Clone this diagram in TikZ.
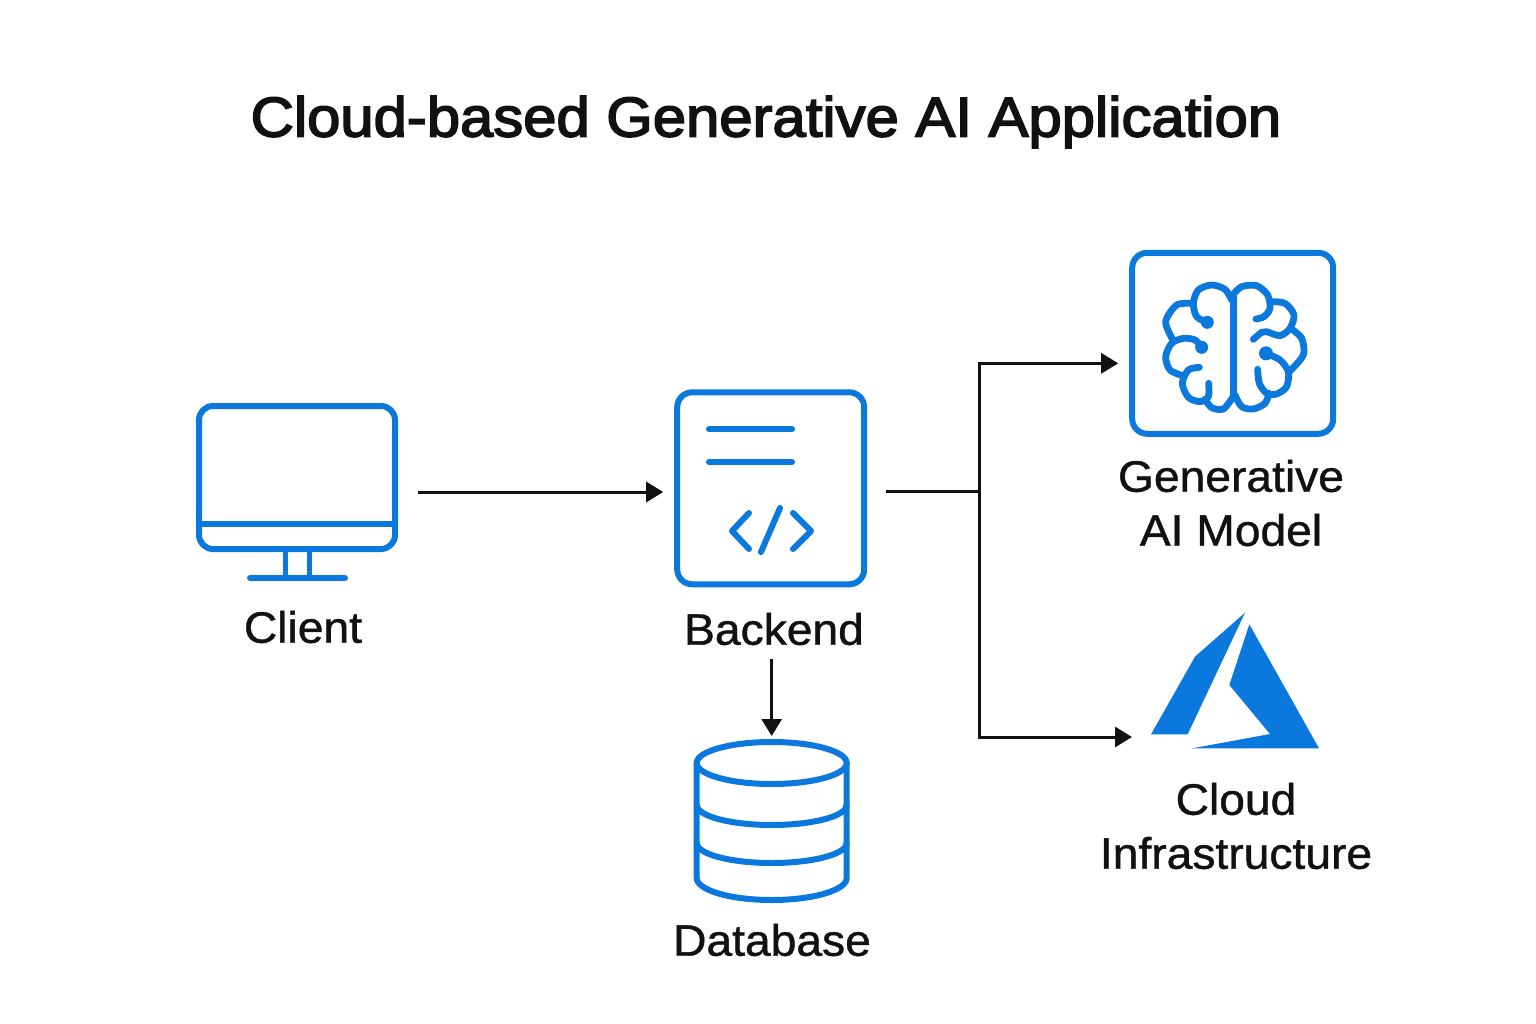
\documentclass[tikz,border=0pt]{standalone}
\usepackage{fontspec}
\setmainfont{Liberation Sans}
\newfontfamily\titlefont[FakeBold=3,FakeStretch=1.068]{Liberation Sans}
\newfontfamily\labelfont[FakeBold=1,FakeStretch=1.05]{Liberation Sans}
\usetikzlibrary{arrows.meta}
\definecolor{iconblue}{RGB}{11,120,222}
\definecolor{inkblack}{RGB}{17,17,17}
\begin{document}
\begin{tikzpicture}[
  x=1pt, y=-1pt,
  iconbox/.style={rectangle, draw=iconblue, line width=6pt, rounded corners=15pt, inner sep=0pt},
  iconarea/.style={rectangle, inner sep=0pt, outer sep=0pt},
  iconline/.style={draw=iconblue, line width=6pt, line cap=round, line join=round},
  brainline/.style={iconline, line width=6.8pt},
  label/.style={font=\labelfont\fontsize{44}{54}\selectfont, text=inkblack, align=center, inner sep=0pt},
  link/.style={draw=inkblack, line width=3pt},
  arrow/.style={link, -{Triangle[length=17pt,width=20pt]}}
]
\useasboundingbox (0,0) rectangle (1536,1024);

% --- Title ---
\node[font=\titlefont\fontsize{56}{60}\selectfont, text=inkblack, inner sep=0pt] (title) at (766,122) {Cloud-based Generative AI Application};

% --- Client ---
\node[iconarea, minimum width=202pt, minimum height=178pt] (client) at (297,492) {};
\draw[iconline, rounded corners=14pt] (199,406) rectangle (395,549);
\draw[iconline, line cap=butt] (199,524) -- (395,524);
\draw[iconline, line cap=butt, line width=5pt] (285,549) -- (285,578);
\draw[iconline, line cap=butt, line width=5pt] (309,549) -- (309,578);
\draw[iconline] (250,578) -- (345,578);
\node[label] (clientlabel) at (303,627) {Client};

% --- Backend ---
\node[iconbox, minimum width=187pt, minimum height=192pt] (backend) at (770.7,488.3) {};
\draw[iconline] (709,429) -- (792,429);
\draw[iconline] (709,462) -- (792,462);
\draw[iconline] (749,513) -- (732,531) -- (749,549);
\draw[iconline] (780,508) -- (761,552);
\draw[iconline] (793,513) -- (811,531) -- (793,549);
\node[label] (backendlabel) at (774,629) {Backend};

% --- Database ---
\node[iconarea, minimum width=156pt, minimum height=164pt] (database) at (771.7,822) {};
\draw[iconline] (771.7,763) ellipse (75pt and 21pt);
\draw[iconline] (696.7,763) -- (696.7,878) arc (180:360:75pt and 22pt) -- (846.7,763);
\draw[iconline] (696.7,805) arc (180:360:75pt and 20pt);
\draw[iconline] (696.7,843) arc (180:360:75pt and 20pt);
\node[label] (databaselabel) at (772,940) {Database};

% --- Generative AI model ---
\node[iconbox, minimum width=201pt, minimum height=181pt] (model) at (1232.7,343.3) {};
\begin{scope}[shift={(1120,240)}, x=0.3333pt, y=-0.3333pt]
  \draw[brainline] plot[smooth] coordinates {(335,180) (315,148) (275,135) (235,150) (220,190) (230,230) (262,247)};
  \draw[brainline] plot[smooth] coordinates {(218,190) (170,195) (137,245) (157,297)};
  \draw[brainline] plot[smooth] coordinates {(245,322) (225,300) (190,295) (155,310) (137,350) (150,390) (190,408)};
  \draw[brainline] plot[smooth] coordinates {(238,382) (205,390) (187,430) (205,472) (240,485) (265,470) (266,430)};
  \draw[brainline] plot[smooth] coordinates {(255,478) (275,503) (310,507) (340,470)};
  \draw[brainline] (340,170) -- (340,465);
  \draw[brainline] plot[smooth] coordinates {(345,465) (365,500) (400,507) (435,490) (447,460)};
  \draw[brainline] plot[smooth] coordinates {(338,165) (365,140) (410,137) (443,165) (450,205) (432,230) (408,237)};
  \draw[brainline] plot[smooth] coordinates {(452,185) (495,190) (522,225) (510,265) (480,287) (440,275) (425,277) (400,298)};
  \draw[brainline] plot[smooth] coordinates {(512,265) (545,295) (550,345) (510,393)};
  \draw[brainline] plot[smooth] coordinates {(438,340) (480,360) (505,395) (500,440) (470,462) (440,460) (418,430) (413,388)};
  \fill[iconblue] (262,247) circle (6.5pt);
  \fill[iconblue] (245,322) circle (6.5pt);
  \fill[iconblue] (438,340) circle (7pt);
\end{scope}
\node[label] (modellabel) at (1231,503) {Generative\\AI Model};

% --- Cloud infrastructure ---
\node[iconarea, minimum width=168pt, minimum height=137pt] (cloud) at (1235,680.5) {};
\begin{scope}[shift={(1130,600)}, x=0.3333pt, y=-0.3333pt]
  \fill[iconblue] (345,38) -- (195,170) -- (63,403) -- (173,403) -- cycle;
  \fill[iconblue] (358,73) -- (298,255) -- (420,402) -- (187,445) -- (567,445) -- cycle;
\end{scope}
\node[label] (cloudlabel) at (1236,826) {Cloud\\Infrastructure};

% --- Connectors ---
\coordinate (fork) at (979,491);
\draw[arrow, shorten <=20pt, shorten >=11pt] (client.east) -- (client.east -| backend.west);
\draw[link, shorten <=19pt] (fork -| backend.east) -- (fork);
\draw[arrow, shorten >=11pt] (fork) |- ([yshift=-20pt]model.west);
\draw[arrow, shorten >=19pt] (fork) |- ([yshift=-56.5pt]cloud.west);
\draw[arrow, shorten <=14pt, shorten >=4pt] (database.north |- backendlabel.south) -- (database.north);

\end{tikzpicture}
\end{document}
